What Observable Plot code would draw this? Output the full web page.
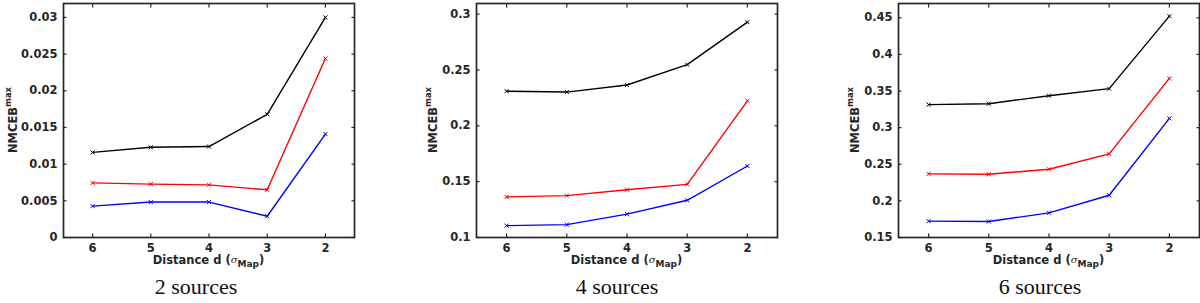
<!DOCTYPE html>
<html>
<head>
<meta charset="utf-8">
<script src="https://cdn.jsdelivr.net/npm/d3@7"></script>
<script src="https://cdn.jsdelivr.net/npm/@observablehq/plot@0.6"></script>
<style>
  html, body { margin: 0; padding: 0; background: #fff; }
  #root { position: relative; width: 1200px; height: 303px; overflow: hidden; background: #fff; }
  .panel { position: absolute; top: 0; }
  .caption { position: absolute; top: 274px; font-family: "Liberation Serif", "Times New Roman", serif; font-size: 22px; color: #111; white-space: nowrap; transform: translateX(-50%); }
</style>
</head>
<body>
<div id="root"></div>
<script>
// ---- data ----
const distances = [6, 5, 4, 3, 2];
const seriesNames = ["black", "red", "blue"];

// 2 sources
const src2Black = [0.0116, 0.0123, 0.0124, 0.0168, 0.0300];
const src2Red   = [0.00745, 0.00728, 0.00718, 0.0065, 0.0244];
const src2Blue  = [0.00428, 0.00483, 0.00483, 0.0029, 0.0141];
// 4 sources
const src4Black = [0.231, 0.2302, 0.2365, 0.2548, 0.2928];
const src4Red   = [0.1363, 0.1375, 0.1428, 0.1476, 0.2224];
const src4Blue  = [0.1106, 0.1115, 0.1209, 0.1333, 0.1640];
// 6 sources
const src6Black = [0.3314, 0.3327, 0.3436, 0.3532, 0.4523];
const src6Red   = [0.2369, 0.2364, 0.2432, 0.2641, 0.3673];
const src6Blue  = [0.1723, 0.1718, 0.1837, 0.2077, 0.3127];

const yTicks2 = [0, 0.005, 0.01, 0.015, 0.02, 0.025, 0.03];
const yTicks4 = [0.1, 0.15, 0.2, 0.25, 0.3];
const yTicks6 = [0.15, 0.2, 0.25, 0.3, 0.35, 0.4, 0.45];

const captions = ["2 sources", "4 sources", "6 sources"];

// ---- layout ----
const panels = [
  {left: 0,   marginLeft: 63, marginRight: 46, yDomain: [0, 0.0319],   yTicks: yTicks2, series: [src2Black, src2Red, src2Blue], yLabelX: 13, caption: captions[0], capX: 196},
  {left: 400, marginLeft: 76, marginRight: 23, yDomain: [0.1, 0.3095], yTicks: yTicks4, series: [src4Black, src4Red, src4Blue], yLabelX: 33, caption: captions[1], capX: 617},
  {left: 800, marginLeft: 98, marginRight: 1,  yDomain: [0.15, 0.4695], yTicks: yTicks6, series: [src6Black, src6Red, src6Blue], yLabelX: 55, caption: captions[2], capX: 1040}
];

const W = 400, H = 280, MT = 3, MB = 43;
const ink = "#262626";
const fmt = d3.format("~g");
const root = document.getElementById("root");

for (const p of panels) {
  const data = [];
  p.series.forEach((vals, si) => {
    vals.forEach((v, i) => data.push({series: seriesNames[si], d: distances[i], v}));
  });
  const tickOpts = {tickSize: -3.5, strokeWidth: 1.2, stroke: ink};
  const chart = Plot.plot({
    width: W, height: H,
    marginLeft: p.marginLeft, marginRight: p.marginRight, marginTop: MT, marginBottom: MB,
    style: {fontFamily: "DejaVu Sans", fontWeight: "bold", fontSize: "11.5px", color: ink, background: "transparent"},
    x: {domain: [6.5, 1.5], label: null},
    y: {domain: p.yDomain, label: null},
    color: {domain: seriesNames, range: ["#000000", "#ff0000", "#0000ff"]},
    marks: [
      Plot.line(data, {x: "d", y: "v", z: "series", stroke: "series", strokeWidth: 1.4}),
      Plot.dot(data, {x: "d", y: "v", stroke: "series", symbol: "times", r: 2, strokeWidth: 1}),
      Plot.axisX({anchor: "bottom", ticks: distances, tickFormat: d => String(d), tickPadding: 9.5, label: null, ...tickOpts, fill: ink}),
      Plot.axisX({anchor: "top", ticks: distances, tickFormat: () => "", label: null, ...tickOpts}),
      Plot.axisY({anchor: "left", ticks: p.yTicks, tickFormat: fmt, tickPadding: 9.5, label: null, ...tickOpts, fill: ink}),
      Plot.axisY({anchor: "right", ticks: p.yTicks, tickFormat: () => "", label: null, ...tickOpts}),
      Plot.frame({stroke: ink, strokeWidth: 1.7})
    ]
  });

  const svg = d3.select(chart);
  const cx = p.marginLeft + (W - p.marginLeft - p.marginRight) / 2;
  const cy = MT + (H - MT - MB) / 2;

  // x label
  const xl = svg.append("text")
    .attr("x", cx).attr("y", 264)
    .attr("text-anchor", "middle")
    .attr("fill", ink)
    .style("font-family", "DejaVu Sans").style("font-weight", "bold").style("font-size", "11.5px");
  xl.append("tspan").text("Distance d (");
  xl.append("tspan").text("σ")
    .style("font-family", "DejaVu Serif").style("font-style", "italic").style("font-weight", "normal").style("font-size", "10px")
    .attr("dy", -1.5);
  xl.append("tspan").text("Map").style("font-size", "9px").attr("dy", 4.5);
  xl.append("tspan").text(")").attr("dy", -3);

  // y label
  const yl = svg.append("text")
    .attr("transform", `translate(${p.yLabelX},${cy}) rotate(-90)`)
    .attr("text-anchor", "middle")
    .attr("dominant-baseline", "middle")
    .attr("fill", ink)
    .style("font-family", "DejaVu Sans").style("font-weight", "bold").style("font-size", "11.5px");
  yl.append("tspan").text("NMCEB");
  yl.append("tspan").text("max").style("font-size", "8.5px").attr("dy", -5);

  const div = document.createElement("div");
  div.className = "panel";
  div.style.left = p.left + "px";
  div.appendChild(chart);
  root.appendChild(div);

  const cap = document.createElement("div");
  cap.className = "caption";
  cap.style.left = p.capX + "px";
  cap.textContent = p.caption;
  root.appendChild(cap);
}
</script>
</body>
</html>
